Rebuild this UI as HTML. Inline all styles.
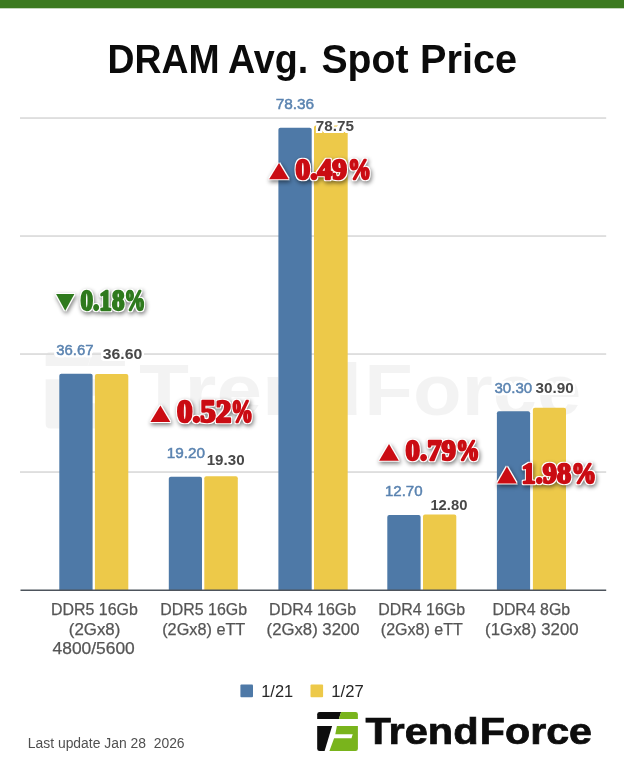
<!DOCTYPE html>
<html><head><meta charset="utf-8"><title>DRAM Avg. Spot Price</title>
<style>
html,body{margin:0;padding:0;background:#fff;}
body{width:624px;height:780px;overflow:hidden;font-family:"Liberation Sans",sans-serif;}
svg{display:block}
text{white-space:pre}
.t{font-family:"Liberation Sans",sans-serif;font-weight:bold;font-size:39.8px;fill:#0b0b0b}
.vb{font-family:"Liberation Sans",sans-serif;font-size:14px;fill:#5a83b0;stroke:#5a83b0;stroke-width:.45px}
.vy{font-family:"Liberation Sans",sans-serif;font-size:14px;font-weight:bold;fill:#484848}
.cat{font-family:"Liberation Sans",sans-serif;font-size:16.5px;fill:#555;stroke:#555;stroke-width:.25px}
.pct{font-family:"Liberation Serif",serif;font-weight:bold;font-size:30px;stroke-width:2.3px;stroke-linejoin:round}
.red{fill:#ca0c13;stroke:#ca0c13}.grn{fill:#2f7a1e;stroke:#2f7a1e}
.leg{font-family:"Liberation Sans",sans-serif;font-size:16.4px;fill:#262626}
.upd{font-family:"Liberation Sans",sans-serif;font-size:14.7px;fill:#505050}
.logo{font-family:"Liberation Sans",sans-serif;font-weight:bold;font-size:36px;fill:#0d0d0d;stroke:#0d0d0d;stroke-width:.7px}
</style></head><body>
<svg width="624" height="780" viewBox="0 0 624 780">
<defs>
<filter id="sh" color-interpolation-filters="sRGB" x="-20%" y="-40%" width="140%" height="200%">
<feMorphology in="SourceAlpha" operator="dilate" radius="1.2" result="fat"/>
<feGaussianBlur in="fat" stdDeviation="1.9" result="bl"/>
<feOffset in="bl" dx="1" dy="2.2" result="off"/>
<feComponentTransfer in="off" result="shadow"><feFuncA type="linear" slope="0.5"/></feComponentTransfer>
<feFlood flood-color="#fff"/><feComposite in2="fat" operator="in" result="white"/>
<feMerge><feMergeNode in="shadow"/><feMergeNode in="white"/><feMergeNode in="SourceGraphic"/></feMerge>
</filter>
<filter id="halo" color-interpolation-filters="sRGB" x="-10%" y="-30%" width="120%" height="160%">
<feMorphology in="SourceAlpha" operator="dilate" radius="1.8" result="fat"/>
<feGaussianBlur in="fat" stdDeviation="0.7" result="fb"/>
<feComponentTransfer in="fb" result="fc"><feFuncA type="linear" slope="2"/></feComponentTransfer>
<feFlood flood-color="#fff"/><feComposite in2="fc" operator="in" result="white"/>
<feMerge><feMergeNode in="white"/><feMergeNode in="SourceGraphic"/></feMerge>
</filter>
<g id="mark">
<path d="M0 2.4 Q0 0 2.4 0 H23.9 L21.7 7.2 H0 Z"/>
<path d="M0 14 H14.9 L7.4 39.2 H2.4 Q0 39.2 0 36.8 Z"/>
</g>
<g id="markf">
<path d="M23.9 0 H38.3 Q40.7 0 40.7 2.4 V7.2 H21.7 Z"/>
<path d="M19.7 14 H40.7 V36.8 Q40.7 39.2 38.3 39.2 H12.2 L16.9 26.3 H34.3 L35.5 22.4 H18.1 Z"/>
</g>
</defs>
<rect x="0" y="0" width="624" height="780" fill="#fff"/>
<rect x="0" y="0" width="624" height="8.3" fill="#3b7a1f"/>
<text class="t" y="72.8"><tspan x="107.6" textLength="112" lengthAdjust="spacingAndGlyphs">DRAM</tspan><tspan x="227.9" textLength="80.2" lengthAdjust="spacingAndGlyphs">Avg.</tspan><tspan x="321.5" textLength="87" lengthAdjust="spacingAndGlyphs">Spot</tspan><tspan x="420" textLength="97" lengthAdjust="spacingAndGlyphs">Price</tspan></text>
<g opacity="0.043" fill="#000"><g transform="translate(45.6 352) scale(1.95)"><use href="#mark"/><use href="#markf"/></g><text font-family="Liberation Sans" font-weight="bold" font-size="72.5" y="415.4"><tspan x="139" textLength="223" lengthAdjust="spacingAndGlyphs">Trend</tspan><tspan x="364.3" textLength="217" lengthAdjust="spacingAndGlyphs">Force</tspan></text></g>
<rect x="20" y="471.20" width="586.2" height="1.7" fill="#dbdbdb"/>
<rect x="20" y="353.20" width="586.2" height="1.7" fill="#dbdbdb"/>
<rect x="20" y="235.20" width="586.2" height="1.7" fill="#dbdbdb"/>
<rect x="20" y="117.20" width="586.2" height="1.7" fill="#dbdbdb"/>
<path d="M59.3 590.05 V375.7 q0 -2.0 2.0 -2.0 H90.6 q2.0 0 2.0 2.0 V590.05 Z" fill="#4e79a7"/><path d="M94.9 590.05 V376.1 q0 -2.0 2.0 -2.0 H126.3 q2.0 0 2.0 2.0 V590.05 Z" fill="#edc949"/>
<path d="M168.8 590.05 V478.8 q0 -2.0 2.0 -2.0 H200.0 q2.0 0 2.0 2.0 V590.05 Z" fill="#4e79a7"/><path d="M204.3 590.05 V478.2 q0 -2.0 2.0 -2.0 H235.8 q2.0 0 2.0 2.0 V590.05 Z" fill="#edc949"/>
<path d="M278.4 590.05 V129.7 q0 -2.0 2.0 -2.0 H309.7 q2.0 0 2.0 2.0 V590.05 Z" fill="#4e79a7"/><path d="M314.0 590.05 V127.4 q0 -2.0 2.0 -2.0 H345.7 q2.0 0 2.0 2.0 V590.05 Z" fill="#edc949"/>
<path d="M387.3 590.05 V517.1 q0 -2.0 2.0 -2.0 H418.6 q2.0 0 2.0 2.0 V590.05 Z" fill="#4e79a7"/><path d="M423.0 590.05 V516.5 q0 -2.0 2.0 -2.0 H454.3 q2.0 0 2.0 2.0 V590.05 Z" fill="#edc949"/>
<path d="M496.9 590.05 V413.3 q0 -2.0 2.0 -2.0 H528.1 q2.0 0 2.0 2.0 V590.05 Z" fill="#4e79a7"/><path d="M532.9 590.05 V409.7 q0 -2.0 2.0 -2.0 H564.0 q2.0 0 2.0 2.0 V590.05 Z" fill="#edc949"/>
<rect x="20.5" y="589.5" width="585.7" height="1.5" fill="#4d545c"/>
<g filter="url(#halo)">
<text class="vb" x="56.3" y="355.4" textLength="37.3" lengthAdjust="spacingAndGlyphs">36.67</text>
<text class="vy" x="102.8" y="359.2" textLength="39.5" lengthAdjust="spacingAndGlyphs">36.60</text>
<text class="vb" x="166.7" y="458" textLength="38.3" lengthAdjust="spacingAndGlyphs">19.20</text>
<text class="vy" x="206.7" y="464.9" textLength="37.9" lengthAdjust="spacingAndGlyphs">19.30</text>
<text class="vb" x="275.7" y="108.6" textLength="38.5" lengthAdjust="spacingAndGlyphs">78.36</text>
<text class="vy" x="315.8" y="131.3" textLength="38.1" lengthAdjust="spacingAndGlyphs">78.75</text>
<text class="vb" x="384.9" y="496.2" textLength="37.7" lengthAdjust="spacingAndGlyphs">12.70</text>
<text class="vy" x="430.4" y="509.6" textLength="37.0" lengthAdjust="spacingAndGlyphs">12.80</text>
<text class="vb" x="494.4" y="392.5" textLength="37.8" lengthAdjust="spacingAndGlyphs">30.30</text>
<text class="vy" x="535.5" y="393" textLength="38.2" lengthAdjust="spacingAndGlyphs">30.90</text>
</g>
<g filter="url(#sh)" class="grn"><path d="M56.1 294 H74.4 L65.2 310.8 Z" stroke="none"/><text class="pct" transform="translate(0 310.0) scale(1 0.986)" y="0"><tspan x="80.6" textLength="43.8" lengthAdjust="spacingAndGlyphs">0.18</tspan><tspan x="124.4" textLength="20.8" lengthAdjust="spacingAndGlyphs">%</tspan></text></g>
<g filter="url(#sh)" class="red"><path d="M150.4 422 H170.3 L160.4 405.5 Z" stroke="none"/><text class="pct" transform="translate(0 422.4) scale(1 1.037)" y="0"><tspan x="176.9" textLength="54.4" lengthAdjust="spacingAndGlyphs">0.52</tspan><tspan x="231.0" textLength="22.0" lengthAdjust="spacingAndGlyphs">%</tspan></text></g>
<g filter="url(#sh)" class="red"><path d="M269.1 179.3 H288.8 L279.0 163 Z" stroke="none"/><text class="pct" transform="translate(0 178.9) scale(1 1.009)" y="0"><tspan x="295.5" textLength="51.5" lengthAdjust="spacingAndGlyphs">0.49</tspan><tspan x="347.9" textLength="23.1" lengthAdjust="spacingAndGlyphs">%</tspan></text></g>
<g filter="url(#sh)" class="red"><path d="M379.1 460.8 H398.8 L389.0 443.9 Z" stroke="none"/><text class="pct" transform="translate(0 460.4) scale(1 1.005)" y="0"><tspan x="405.6" textLength="50.3" lengthAdjust="spacingAndGlyphs">0.79</tspan><tspan x="456.1" textLength="23.6" lengthAdjust="spacingAndGlyphs">%</tspan></text></g>
<g filter="url(#sh)" class="red"><path d="M497.1 483.5 H516.8 L506.9 466.4 Z" stroke="none"/><text class="pct" transform="translate(0 483.0) scale(1 0.99)" y="0"><tspan x="521.5" textLength="49.6" lengthAdjust="spacingAndGlyphs">1.98</tspan><tspan x="571.6" textLength="24.8" lengthAdjust="spacingAndGlyphs">%</tspan></text></g>
<text class="cat" x="50.9" y="614.7" textLength="86.9" lengthAdjust="spacingAndGlyphs">DDR5 16Gb</text>
<text class="cat" x="68.8" y="634.9" textLength="51.5" lengthAdjust="spacingAndGlyphs">(2Gx8)</text>
<text class="cat" x="52.6" y="653.9" textLength="82.2" lengthAdjust="spacingAndGlyphs">4800/5600</text>
<text class="cat" x="160.3" y="614.7" textLength="86.8" lengthAdjust="spacingAndGlyphs">DDR5 16Gb</text>
<text class="cat" x="162.2" y="634.9" textLength="83.1" lengthAdjust="spacingAndGlyphs">(2Gx8) eTT</text>
<text class="cat" x="269.1" y="614.7" textLength="87.1" lengthAdjust="spacingAndGlyphs">DDR4 16Gb</text>
<text class="cat" x="266.6" y="634.9" textLength="93.0" lengthAdjust="spacingAndGlyphs">(2Gx8) 3200</text>
<text class="cat" x="378.2" y="614.7" textLength="86.9" lengthAdjust="spacingAndGlyphs">DDR4 16Gb</text>
<text class="cat" x="380.8" y="634.9" textLength="82.0" lengthAdjust="spacingAndGlyphs">(2Gx8) eTT</text>
<text class="cat" x="492.4" y="614.7" textLength="77.8" lengthAdjust="spacingAndGlyphs">DDR4 8Gb</text>
<text class="cat" x="485.1" y="634.9" textLength="93.5" lengthAdjust="spacingAndGlyphs">(1Gx8) 3200</text>
<rect x="240.4" y="684.6" width="12.6" height="12.6" rx="1" fill="#4e79a7"/><text class="leg" x="261.2" y="697.2" textLength="32" lengthAdjust="spacingAndGlyphs">1/21</text>
<rect x="310.5" y="684.6" width="12.6" height="12.6" rx="1" fill="#edc949"/><text class="leg" x="331.3" y="697.2" textLength="32.4" lengthAdjust="spacingAndGlyphs">1/27</text>
<text class="upd" x="27.8" y="748.3" textLength="156.8" lengthAdjust="spacingAndGlyphs">Last update Jan 28  2026</text>
<g transform="translate(317.2 711.9)"><use href="#mark" fill="#0d0d0d"/><use href="#markf" fill="#79b41c"/></g>
<text class="logo" y="744.4"><tspan x="365.4" textLength="113.2" lengthAdjust="spacingAndGlyphs">Trend</tspan><tspan x="479.8" textLength="112.2" lengthAdjust="spacingAndGlyphs">Force</tspan></text>
</svg></body></html>
